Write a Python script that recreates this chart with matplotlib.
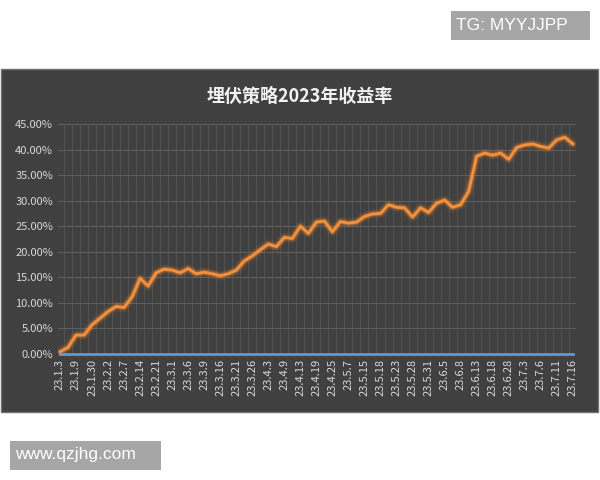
import matplotlib
matplotlib.use("Agg")
import matplotlib.pyplot as plt
from matplotlib.patches import Rectangle
from matplotlib.ticker import FuncFormatter, MultipleLocator

plt.rcParams['font.family'] = ['Noto Sans CJK SC', 'DejaVu Sans']

tick_labels = ["23.1.3","23.1.9","23.1.30","23.2.2","23.2.7","23.2.14","23.2.21","23.3.1",
               "23.3.6","23.3.9","23.3.16","23.3.21","23.3.26","23.4.3","23.4.9","23.4.13",
               "23.4.19","23.4.25","23.5.7","23.5.15","23.5.18","23.5.23","23.5.28","23.5.31",
               "23.6.5","23.6.8","23.6.13","23.6.18","23.6.28","23.7.3","23.7.6","23.7.11","23.7.16"]
returns = [0.4,1.3,3.7,3.7,5.7,7.0,8.3,9.3,9.1,11.2,14.8,13.3,15.9,16.6,16.4,15.9,16.7,15.7,
           16.0,15.7,15.3,15.7,16.4,18.2,19.2,20.4,21.5,21.0,22.8,22.6,25.0,23.6,25.8,26.0,
           23.9,25.9,25.6,25.8,26.9,27.4,27.5,29.2,28.7,28.6,26.8,28.6,27.7,29.5,30.1,28.7,
           29.2,31.8,38.7,39.3,38.9,39.3,38.1,40.4,40.9,41.1,40.6,40.3,41.9,42.4,41.1]
baseline = [0.0]*len(returns)

fig = plt.figure(figsize=(6, 4.8), dpi=100)
fig.patch.set_facecolor('white')
W, H = 600, 480
def fx(x): return x / W
def fy(y): return 1 - y / H

fig.patches.append(Rectangle((fx(1), fy(412)), fx(598)-fx(1), fy(69)-fy(412),
                             transform=fig.transFigure, facecolor='#404040',
                             edgecolor='#707070', lw=1, zorder=-5))
fig.patches.append(Rectangle((fx(451), fy(40)), fx(590)-fx(451), fy(11)-fy(40),
                             transform=fig.transFigure, facecolor='#a6a6a6', edgecolor='none'))
fig.text(fx(456), fy(26), "TG: MYYJJPP", color='white', fontsize=12.5, va='center',
         family=['Liberation Sans'])
fig.patches.append(Rectangle((fx(10), fy(470)), fx(161)-fx(10), fy(441)-fy(470),
                             transform=fig.transFigure, facecolor='#a6a6a6', edgecolor='none'))
fig.text(fx(15), fy(455), "www.qzjhg.com", color='white', fontsize=12.5, va='center',
         family=['Liberation Sans'])

fig.text(fx(300), fy(96), "埋伏策略2023年收益率", color='#f2f2f2', fontsize=13,
         fontweight='bold', ha='center', va='center')

ax = fig.add_axes([fx(58), fy(354), fx(576)-fx(58), fy(124)-fy(354)])
ax.set_facecolor('none')
x = list(range(len(returns)))
ax.set_xlim(-0.25, len(returns) - 0.6)
ax.set_ylim(0, 45)
ax.yaxis.set_major_locator(MultipleLocator(5))
ax.yaxis.set_major_formatter(FuncFormatter(lambda v, p: f"{v:.2f}%"))
ax.set_xticks(x[::2])
ax.set_xticklabels(tick_labels, rotation=90)
ax.set_xticks([i + 0.5 for i in x[:-1]], minor=True)
ax.grid(axis='y', which='major', color='#5e5e5e', lw=0.8)
ax.grid(axis='x', which='minor', color='#555555', lw=0.6)
ax.tick_params(axis='both', which='both', length=0, colors='#d9d9d9', labelsize=8)
for s in ax.spines.values():
    s.set_visible(False)

for lw, a in [(7, 0.08), (5, 0.15), (3.5, 0.3)]:
    ax.plot(x, returns, color='#ff8a2a', lw=lw, alpha=a, solid_capstyle='round')
ax.plot(x, returns, color='#f4913f', lw=2)
ax.plot(x, baseline, color='#5b9bd5', lw=2, clip_on=False, zorder=5)

fig.savefig("out.png", dpi=100, facecolor='white')
